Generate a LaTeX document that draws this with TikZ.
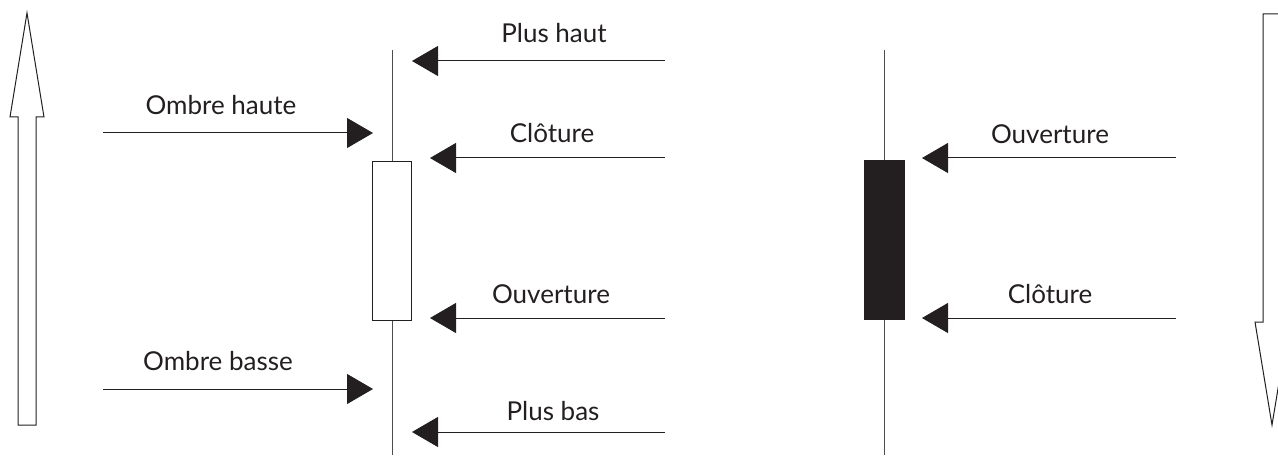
\documentclass[tikz,border=0pt]{standalone}
\usepackage{fontspec}
\setmainfont{Lato}
\usetikzlibrary{arrows.meta}
\definecolor{ink}{HTML}{231F20}
\tikzset{
  ptr/.style={draw=ink, line width=1pt, -{Triangle[length=26pt,width=30pt]}},
  lbl/.style={font=\fontsize{26}{29}\selectfont, text=ink, inner sep=0pt},
  bigarrow/.style={draw=ink, line width=1pt, fill=white},
  wick/.style={draw=ink!80, line width=1pt},
}
\begin{document}
\begin{tikzpicture}[x=1pt,y=-1pt]
\useasboundingbox (0,0) rectangle (1278,468);
% big arrows
\draw[bigarrow] (27,13) -- (44,117) -- (36,117) -- (36,425) -- (18,425) -- (18,117) -- (10,117) -- cycle;
\draw[bigarrow] (1263,14) -- (1281,14) -- (1281,322) -- (1289,322) -- (1272,425) -- (1255,322) -- (1263,322) -- cycle;
% candle 1 (white)
\draw[wick] (392,50) -- (392,455);
\node[draw=ink, line width=1pt, fill=white, minimum width=39pt, minimum height=158pt, inner sep=0pt] (body1) at (392,241) {};
% candle 2 (black)
\draw[wick] (884,50) -- (884,455);
\node[draw=ink, fill=ink, minimum width=40pt, minimum height=159pt, inner sep=0pt] (body2) at (884,240) {};
% coordinates
\coordinate (s1) at (665,61);   \coordinate (t1) at (412,61);
\coordinate (s2) at (665,158);  \coordinate (t2) at (430,158);
\coordinate (s3) at (665,318);  \coordinate (t3) at (430,318);
\coordinate (s4) at (665,432);  \coordinate (t4) at (412,432);
\coordinate (s5) at (103,133);  \coordinate (t5) at (373,133);
\coordinate (s6) at (103,389);  \coordinate (t6) at (373,389);
\coordinate (s7) at (1176,158); \coordinate (t7) at (922,158);
\coordinate (s8) at (1176,318); \coordinate (t8) at (922,318);
\draw[ptr] (s1) -- (t1);
\draw[ptr] (s2) -- (t2);
\draw[ptr] (s3) -- (t3);
\draw[ptr] (s4) -- (t4);
\draw[ptr] (s5) -- (t5);
\draw[ptr] (s6) -- (t6);
\draw[ptr] (s7) -- (t7);
\draw[ptr] (s8) -- (t8);
% labels
\node[lbl] (l1) at (554,33) {Plus haut};
\node[lbl] (l2) at (552,133) {Clôture};
\node[lbl] (l3) at (551,294) {Ouverture};
\node[lbl] (l4) at (553,411) {Plus bas};
\node[lbl] (l5) at (221,105) {Ombre haute};
\node[lbl] (l6) at (218,361) {Ombre basse};
\node[lbl] (l7) at (1050,134) {Ouverture};
\node[lbl] (l8) at (1050,294) {Clôture};
\end{tikzpicture}
\end{document}
